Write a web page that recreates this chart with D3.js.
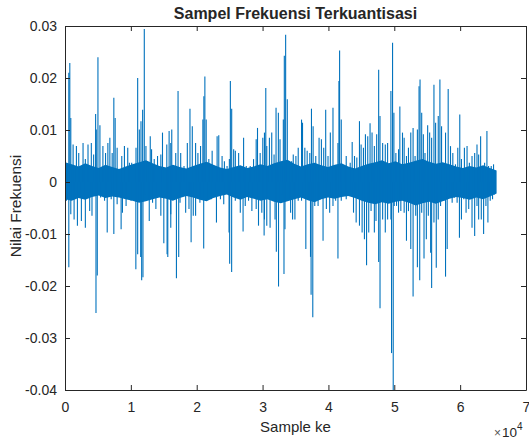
<!DOCTYPE html>
<html>
<head>
<meta charset="utf-8">
<script src="https://cdn.jsdelivr.net/npm/d3@7"></script>
<style>
  body { margin: 0; background: #fff; }
  svg { display: block; }
  text { font-family: "Liberation Sans", Arial, Helvetica, sans-serif; fill: #262626; }
</style>
</head>
<body>
<div id="wrapper"></div>
<script>
const chartTitle = "Sampel Frekuensi Terkuantisasi"
const xLabel = "Sample ke"
const yLabel = "Nilai Frekuensi"

const xTickValues = [0, 10000, 20000, 30000, 40000, 50000, 60000, 70000]
const xTickLabels = ["0", "1", "2", "3", "4", "5", "6", "7"]
const yTickValues = [-0.04, -0.03, -0.02, -0.01, 0, 0.01, 0.02, 0.03]
const yTickLabels = ["-0.04", "-0.03", "-0.02", "-0.01", "0", "0.01", "0.02", "0.03"]

// dense core of the signal (upper / lower edge read every 1024 samples)
const coreSamples = [0, 1024, 2048, 3072, 4096, 5120, 6144, 7168, 8192, 9216,
  10240, 11264, 12288, 13312, 14336, 15360, 16384, 17408, 18432, 19456,
  20480, 21504, 22528, 23552, 24576, 25600, 26624, 27648, 28672, 29696,
  30720, 31744, 32768, 33792, 34816, 35840, 36864, 37888, 38912, 39936,
  40960, 41984, 43008, 44032, 45056, 46080, 47104, 48128, 49152, 50176,
  51200, 52224, 53248, 54272, 55296, 56320, 57344, 58368, 59392, 60416,
  61440, 62464, 63488, 64512, 65535]
const coreHigh = [0.0038, 0.0034, 0.0030, 0.0036, 0.0031, 0.0027, 0.0033, 0.0029, 0.0025, 0.0030,
  0.0034, 0.0038, 0.0042, 0.0036, 0.0031, 0.0028, 0.0033, 0.0029, 0.0026, 0.0031,
  0.0035, 0.0039, 0.0033, 0.0028, 0.0025, 0.0029, 0.0032, 0.0027, 0.0030, 0.0034,
  0.0031, 0.0036, 0.0040, 0.0043, 0.0035, 0.0030, 0.0034, 0.0037, 0.0032, 0.0029,
  0.0033, 0.0036, 0.0030, 0.0026, 0.0031, 0.0035, 0.0038, 0.0042, 0.0036, 0.0040,
  0.0034, 0.0037, 0.0041, 0.0044, 0.0039, 0.0035, 0.0038, 0.0034, 0.0030, 0.0027,
  0.0031, 0.0028, 0.0032, 0.0027, 0.0022]
const coreLow = [-0.0033, -0.0036, -0.0031, -0.0034, -0.0029, -0.0026, -0.0031, -0.0028, -0.0030, -0.0033,
  -0.0036, -0.0040, -0.0037, -0.0033, -0.0030, -0.0032, -0.0036, -0.0031, -0.0027, -0.0030,
  -0.0034, -0.0037, -0.0031, -0.0027, -0.0024, -0.0030, -0.0034, -0.0029, -0.0032, -0.0036,
  -0.0033, -0.0038, -0.0041, -0.0037, -0.0033, -0.0030, -0.0035, -0.0039, -0.0033, -0.0030,
  -0.0032, -0.0029, -0.0027, -0.0031, -0.0036, -0.0040, -0.0043, -0.0039, -0.0042, -0.0038,
  -0.0036, -0.0040, -0.0045, -0.0041, -0.0038, -0.0042, -0.0037, -0.0032, -0.0029, -0.0031,
  -0.0034, -0.0030, -0.0033, -0.0028, -0.0022]

// positive peaks
const posSamples = [75, 578, 729, 880, 1231, 1734, 2086, 2740, 3091, 3494, 3996, 4348, 4650, 4750, 5002,
  5303, 5756, 6158, 6510, 6811, 7163, 7415, 7616, 7917, 8621, 9023, 9526, 9777, 10129, 10783, 11034,
  11285, 11537, 11788, 12040, 12291, 12643, 12944, 13145, 13548, 14050, 14553, 14804, 15458, 15810, 16061,
  16211, 16814, 17166, 17568, 18071, 18574, 18976, 19328, 19830, 20182, 20584, 20936, 21087, 21238, 21439,
  21841, 22344, 22696, 23098, 23349, 23852, 24204, 24606, 24958, 25109, 25310, 25611, 25863, 26365, 26717,
  27119, 27522, 28125, 28628, 29030, 29231, 29633, 30035, 30286, 30487, 30638, 31040, 31392, 31744, 32046,
  32398, 32649,
  32899, 33151, 33302, 33503, 33754, 34056, 34407, 34659, 35061, 35413, 35916, 36066, 36418, 36770, 37172,
  37424, 37675, 38077, 38580, 38932, 39284, 39585, 39937, 40289, 40691, 41093, 41445, 41596, 41697, 41948,
  42300, 42702, 43305, 43607, 43959, 44311, 44713, 44964, 45316, 45618, 45970, 46321, 46623, 46975, 47327,
  47628, 47830, 48232, 48634, 48986,
  49487, 49739, 49940, 50241, 50644, 50845, 51247, 51498, 51850, 52152, 52504, 52855, 53157, 53509, 53760,
  53911, 54162, 54414, 54665, 55067, 55369, 55671, 56022, 56274, 56676, 56927, 57179, 57531, 57782, 58184,
  58536, 58888, 59290, 59642, 59944, 60195, 60647, 61049, 61401, 61804, 62206, 62558, 62809, 63110, 63412,
  63714, 64066, 64317, 64719, 65071, 65322]
const posValues = [0.0037, 0.0210, 0.0229, 0.0123, 0.0072, 0.0069, 0.0056, 0.0075, 0.0044, 0.0072, 0.0075, 0.0053, 0.0131, 0.0101, 0.0240,
  0.0109, 0.0069, 0.0056, 0.0075, 0.0085, 0.0056, 0.0162, 0.0123, 0.0066, 0.0050, 0.0069, 0.0066, 0.0037, 0.0037, 0.0066, 0.0200,
  0.0101, 0.0117, 0.0139, 0.0294, 0.0069, 0.0037, 0.0088, 0.0063, 0.0044, 0.0050, 0.0053, 0.0095, 0.0072, 0.0098, 0.0075,
  0.0101, 0.0056, 0.0175, 0.0056, 0.0031, 0.0075, 0.0141, 0.0107, 0.0075, 0.0056, 0.0069, 0.0120, 0.0165, 0.0203, 0.0120,
  0.0044, 0.0060, 0.0031, 0.0088, 0.0090, 0.0050, 0.0040, 0.0031, 0.0044, 0.0194, 0.0141, 0.0063, 0.0060, 0.0056, 0.0031,
  0.0085, 0.0031, 0.0031, 0.0044, 0.0082, 0.0104, 0.0056, 0.0085, 0.0095, 0.0181, 0.0069, 0.0085, 0.0095, 0.0053, 0.0143,
  0.0133, 0.0082,
  0.0031, 0.0120, 0.0243, 0.0283, 0.0159, 0.0037, 0.0040, 0.0053, 0.0050, 0.0066, 0.0120, 0.0114, 0.0066, 0.0060, 0.0056,
  0.0141, 0.0107, 0.0050, 0.0085, 0.0082, 0.0066, 0.0139, 0.0050, 0.0095, 0.0143, 0.0031, 0.0075, 0.0194, 0.0253, 0.0120,
  0.0031, 0.0050, 0.0037, 0.0077, 0.0050, 0.0047, 0.0117, 0.0072, 0.0066, 0.0092, 0.0088, 0.0113, 0.0095, 0.0069, 0.0092,
  0.0216, 0.0127, 0.0075, 0.0072, 0.0075,
  0.0175, 0.0268, 0.0133, 0.0056, 0.0063, 0.0145, 0.0095, 0.0085, 0.0050, 0.0066, 0.0095, 0.0104, 0.0050, 0.0101, 0.0184,
  0.0197, 0.0133, 0.0092, 0.0056, 0.0109, 0.0095, 0.0085, 0.0187, 0.0114, 0.0127, 0.0197, 0.0107, 0.0031, 0.0095, 0.0179,
  0.0069, 0.0056, 0.0034, 0.0066, 0.0130, 0.0044, 0.0066, 0.0069, 0.0037, 0.0050, 0.0056, 0.0072, 0.0053, 0.0088, 0.0031,
  0.0037, 0.0098, 0.0031, 0.0031, 0.0034, 0.0018]

// negative peaks
const negSamples = [226, 578, 880, 1382, 1885, 2488, 3091, 3745, 4097, 4705, 4901, 5404, 6007, 6409, 7013,
  7415, 7917, 8521, 8722, 9275, 10029, 10758, 11034, 11491, 11642, 11838, 12140, 12794, 13296, 13799, 14553,
  15004, 15502, 15608, 16061,
  16060, 16920, 17266, 17468, 18322, 18825, 19150, 19478, 19830, 20484, 21060, 21590, 22193, 22997, 23601,
  24103, 24606, 24908, 25003, 25304, 25863, 26617, 27040, 27371, 27873, 28376, 29030, 29382, 29884, 30235,
  30286, 30638, 31141, 31895, 32090, 32422,
  32899, 33251, 33402, 34056, 34257, 34559, 34910, 35413, 35916, 36569, 36921, 37278, 37368, 37624, 37926,
  38429, 38781, 39183, 39686, 40189, 40691, 41093, 41445, 41948, 42702, 43205, 43808, 44210, 44713, 45115,
  45467, 45790, 46120, 46472, 46975, 47226, 47628, 47834, 48232, 48634, 48986,
  49487, 49582, 49839, 49990, 50342, 50644, 50995, 51498, 51850, 52152, 52504, 52855, 53258, 53509, 53861,
  54162, 54514, 54866, 55168, 55520, 55671, 56022, 56374, 56676, 57028, 57531, 57782, 58033, 58435, 58787,
  59139, 59541, 59893, 60195, 60547, 60899, 61301, 61804, 62206, 62558, 62809, 63211, 63563, 63915, 64216,
  64569, 64921, 65222]
const negValues = [-0.0036, -0.0164, -0.0062, -0.0072, -0.0084, -0.0075, -0.0088, -0.0056, -0.0065, -0.0252, -0.0180, -0.0030, -0.0036, -0.0097, -0.0033,
  -0.0100, -0.0043, -0.0091, -0.0059, -0.0046, -0.0036, -0.0168, -0.0139, -0.0144, -0.0189, -0.0183, -0.0024, -0.0075, -0.0040, -0.0052, -0.0065,
  -0.0118, -0.0139, -0.0144, -0.0062,
  -0.0088, -0.0185, -0.0144, -0.0040, -0.0059, -0.0052, -0.0116, -0.0065, -0.0065, -0.0040, -0.0128, -0.0033, -0.0033, -0.0078, -0.0033,
  -0.0043, -0.0020, -0.0097, -0.0157, -0.0173, -0.0036, -0.0059, -0.0095, -0.0046, -0.0036, -0.0056, -0.0052, -0.0084, -0.0059, -0.0103,
  -0.0072, -0.0084, -0.0088, -0.0072, -0.0134, -0.0201,
  -0.0024, -0.0177, -0.0091, -0.0033, -0.0059, -0.0072, -0.0072, -0.0036, -0.0036, -0.0129, -0.0033, -0.0144, -0.0217, -0.0260, -0.0046,
  -0.0046, -0.0033, -0.0113, -0.0052, -0.0059, -0.0046, -0.0036, -0.0147, -0.0036, -0.0033, -0.0020, -0.0059, -0.0078, -0.0084, -0.0097,
  -0.0110, -0.0160, -0.0097, -0.0056, -0.0097, -0.0075, -0.0154, -0.0243, -0.0072, -0.0097, -0.0072,
  -0.0072, -0.0329, -0.0400, -0.0046, -0.0046, -0.0059, -0.0056, -0.0059, -0.0113, -0.0056, -0.0129, -0.0220, -0.0065, -0.0164, -0.0189,
  -0.0059, -0.0147, -0.0110, -0.0065, -0.0136, -0.0204, -0.0078, -0.0165, -0.0072, -0.0046, -0.0036, -0.0182, -0.0129, -0.0027, -0.0040,
  -0.0030, -0.0040, -0.0107, -0.0072, -0.0033, -0.0059, -0.0052, -0.0088, -0.0104, -0.0046, -0.0072, -0.0072, -0.0100, -0.0046, -0.0078,
  -0.0036, -0.0033, -0.0024]

function drawChart() {
  const lineColor = "#0072BD"
  const axisColor = "#262626"

  let dimensions = {
    width: 529,
    height: 442,
    margins: {
      top: 26,
      right: 3,
      bottom: 52,
      left: 65,
    }
  }
  dimensions.boundedWidth = dimensions.width
    - dimensions.margins.left
    - dimensions.margins.right
  dimensions.boundedHeight = dimensions.height
    - dimensions.margins.top
    - dimensions.margins.bottom

  const wrapper = d3.select("#wrapper")
    .append("svg")
      .attr("width", dimensions.width)
      .attr("height", dimensions.height)

  const bounds = wrapper.append("g")
      .attr("transform", `translate(${dimensions.margins.left},${dimensions.margins.top})`)

  const xScale = d3.scaleLinear()
    .domain([0, 70000])
    .range([0, dimensions.boundedWidth])

  const yScale = d3.scaleLinear()
    .domain([-0.04, 0.03])
    .range([dimensions.boundedHeight, 0])

  bounds.append("clipPath")
      .attr("id", "plot-clip")
    .append("rect")
      .attr("width", dimensions.boundedWidth)
      .attr("height", dimensions.boundedHeight)

  const plot = bounds.append("g")
      .attr("clip-path", "url(#plot-clip)")

  // dense core
  const coreData = coreSamples.map((s, i) => ({ s, hi: coreHigh[i], lo: coreLow[i] }))
  const coreArea = d3.area()
      .x(d => xScale(d.s))
      .y0(d => yScale(d.lo))
      .y1(d => yScale(d.hi))
  plot.append("path")
      .attr("d", coreArea(coreData))
      .attr("fill", lineColor)

  // individual peaks
  const peaks = posSamples.map((s, i) => ({ s, v: posValues[i] }))
    .concat(negSamples.map((s, i) => ({ s, v: negValues[i] })))
  plot.selectAll("line.peak")
    .data(peaks)
    .join("line")
      .attr("class", "peak")
      .attr("x1", d => xScale(d.s))
      .attr("x2", d => xScale(d.s))
      .attr("y1", yScale(0))
      .attr("y2", d => yScale(d.v))
      .attr("stroke", lineColor)
      .attr("stroke-width", 1.1)

  // axes (MATLAB style box, ticks inside)
  const styleAxis = g => {
    g.attr("font-family", null).attr("font-size", null).attr("color", axisColor)
    g.selectAll("text").style("font-size", "14px")
  }

  bounds.append("g")
      .attr("transform", `translate(0,${dimensions.boundedHeight})`)
      .call(d3.axisBottom(xScale)
        .tickValues(xTickValues)
        .tickFormat((d, i) => xTickLabels[i])
        .tickSizeInner(-5)
        .tickSizeOuter(0)
        .tickPadding(12))
      .call(styleAxis)

  bounds.append("g")
      .call(d3.axisTop(xScale)
        .tickValues(xTickValues)
        .tickFormat("")
        .tickSizeInner(-5)
        .tickSizeOuter(0))
      .call(styleAxis)

  bounds.append("g")
      .call(d3.axisLeft(yScale)
        .tickValues(yTickValues)
        .tickFormat((d, i) => yTickLabels[i])
        .tickSizeInner(-5)
        .tickSizeOuter(0)
        .tickPadding(8))
      .call(styleAxis)

  bounds.append("g")
      .attr("transform", `translate(${dimensions.boundedWidth},0)`)
      .call(d3.axisRight(yScale)
        .tickValues(yTickValues)
        .tickFormat("")
        .tickSizeInner(-5)
        .tickSizeOuter(0))
      .call(styleAxis)

  // labels
  wrapper.append("text")
      .attr("x", dimensions.margins.left + dimensions.boundedWidth / 2)
      .attr("y", 18.5)
      .attr("text-anchor", "middle")
      .style("font-size", "16px")
      .style("font-weight", "bold")
      .text(chartTitle)

  wrapper.append("text")
      .attr("x", dimensions.margins.left + dimensions.boundedWidth / 2)
      .attr("y", 431.5)
      .attr("text-anchor", "middle")
      .style("font-size", "15px")
      .text(xLabel)

  wrapper.append("text")
      .attr("transform", `translate(20.5,${dimensions.margins.top + 180}) rotate(-90)`)
      .attr("text-anchor", "middle")
      .style("font-size", "15.5px")
      .text(yLabel)

  const expo = wrapper.append("text")
      .attr("x", 494)
      .attr("y", 436.5)
  expo.append("tspan")
      .style("font-size", "12px")
      .attr("fill", "#555")
      .text("×")
  expo.append("tspan")
      .attr("dx", 1)
      .style("font-size", "13.5px")
      .text("10")
  expo.append("tspan")
      .attr("dy", -7)
      .style("font-size", "10px")
      .text("4")
}

drawChart()
</script>
</body>
</html>
